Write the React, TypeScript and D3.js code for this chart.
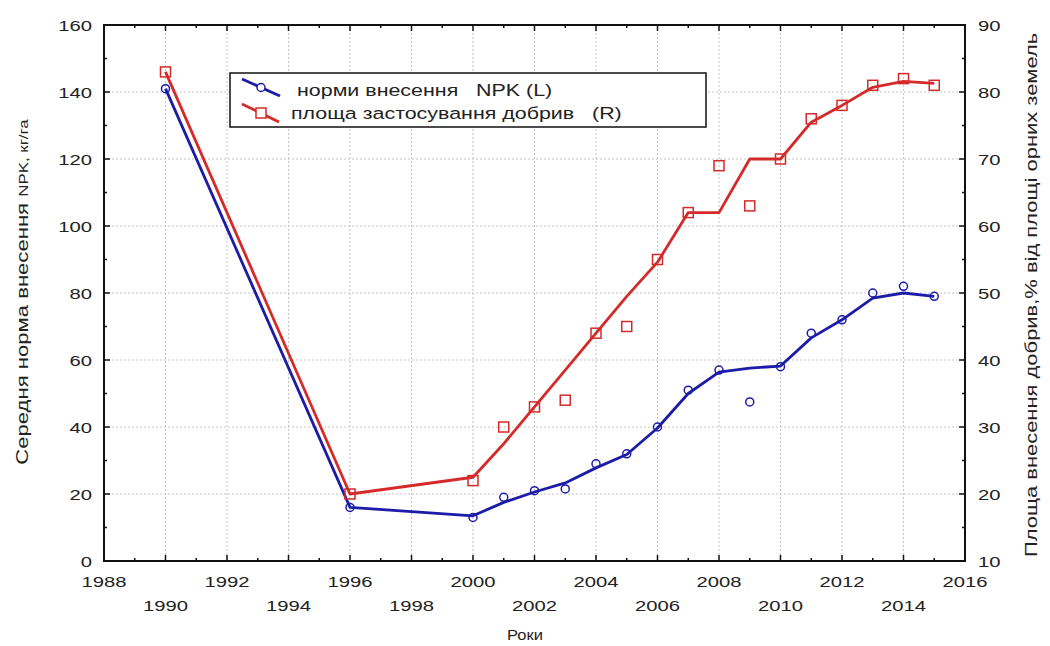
import React from 'react';
import * as d3 from 'd3';

// observed values
const years = [1990, 1996, 2000, 2001, 2002, 2003, 2004, 2005, 2006, 2007, 2008, 2009, 2010, 2011, 2012, 2013, 2014, 2015];
const npkRate = [141, 16, 13, 19, 21, 21.5, 29, 32, 40, 51, 57, 47.5, 58, 68, 72, 80, 82, 79];
const areaShare = [83, 20, 22, 30, 33, 34, 44, 45, 55, 62, 69, 63, 70, 76, 78, 81, 82, 81];

// smoothed fit lines as drawn in the source
const npkFit = [141, 16, 13.5, 17.5, 20.6, 23.3, 27.8, 31.8, 39.7, 50, 56.4, 57.6, 58.2, 66.6, 72, 78.5, 80, 79];
const areaFit = [83, 20, 22.5, 27.5, 33, 38.5, 44, 49.5, 54.6, 62, 62, 70, 70, 75.5, 78, 80.7, 81.6, 81.3];

const leftTicks = [0, 20, 40, 60, 80, 100, 120, 140, 160];
const rightTicks = [10, 20, 30, 40, 50, 60, 70, 80, 90];
const xTicksTop = [1988, 1992, 1996, 2000, 2004, 2008, 2012, 2016];
const xTicksLow = [1990, 1994, 1998, 2002, 2006, 2010, 2014];

const blue = '#1c1ca8';
const red = '#d42a2a';
const font = '"Liberation Sans", Arial, sans-serif';

const W = 1050;
const H = 646;
const m = { left: 104, right: 965, top: 25, bottom: 561 };

// the source renders its text noticeably wide, so stretch along the reading direction
const Wide = ({ x, y, sx = 1.33, rot = 0, anchor = 'start', size = 15, children }: any) => (
  <g transform={`translate(${x},${y}) rotate(${rot}) scale(${sx},1)`}>
    <text textAnchor={anchor} fontSize={size} fill="#222" style={{ whiteSpace: 'pre' }}>{children}</text>
  </g>
);

export default function App() {
  const x = d3.scaleLinear().domain([1988, 2016]).range([m.left, m.right]);
  const yL = d3.scaleLinear().domain([0, 160]).range([m.bottom, m.top]);
  const yR = d3.scaleLinear().domain([10, 90]).range([m.bottom, m.top]);

  const majorX = d3.range(1988, 2017, 2);
  const minorX = d3.range(1988, 2017, 1);

  const npkLine = d3.line<number>().x((_, i) => x(years[i])).y((d) => yL(d))(npkFit) || '';
  const areaLine = d3.line<number>().x((_, i) => x(years[i])).y((d) => yR(d))(areaFit) || '';

  return (
    <svg width={W} height={H} style={{ position: 'absolute', left: 0, top: 0, background: '#fff' }} fontFamily={font}>
      {/* grid */}
      <g stroke="#c4c4c4" strokeWidth={1} strokeDasharray="2,2">
        {majorX.slice(1, -1).map((t) => (
          <line key={'gx' + t} x1={x(t)} x2={x(t)} y1={m.top} y2={m.bottom} />
        ))}
        {leftTicks.slice(1, -1).map((t) => (
          <line key={'gy' + t} x1={m.left} x2={m.right} y1={yL(t)} y2={yL(t)} />
        ))}
      </g>

      {/* ticks */}
      <g stroke="#111" strokeWidth={1.5}>
        {minorX.map((t) => {
          const len = t % 2 === 0 ? 6 : 3;
          return (
            <g key={'tx' + t}>
              <line x1={x(t)} x2={x(t)} y1={m.bottom} y2={m.bottom - len} />
              <line x1={x(t)} x2={x(t)} y1={m.top} y2={m.top + len} />
            </g>
          );
        })}
        {d3.range(0, 161, 10).map((t) => {
          const len = t % 20 === 0 ? 6 : 3;
          return (
            <g key={'ty' + t}>
              <line x1={m.left} x2={m.left + len} y1={yL(t)} y2={yL(t)} />
              <line x1={m.right} x2={m.right - len} y1={yL(t)} y2={yL(t)} />
            </g>
          );
        })}
      </g>

      {/* frame */}
      <rect x={m.left} y={m.top} width={m.right - m.left} height={m.bottom - m.top} fill="none" stroke="#111" strokeWidth={2} />

      {/* tick labels */}
      {leftTicks.map((t) => (
        <Wide key={'ll' + t} x={m.left - 12} y={yL(t) + 5.5} anchor="end" sx={1.35}>{t}</Wide>
      ))}
      {rightTicks.map((t) => (
        <Wide key={'rl' + t} x={m.right + 13} y={yR(t) + 5.5} sx={1.35}>{t}</Wide>
      ))}
      {xTicksTop.map((t) => (
        <Wide key={'xt' + t} x={x(t)} y={m.bottom + 26} anchor="middle" sx={1.35}>{t}</Wide>
      ))}
      {xTicksLow.map((t) => (
        <Wide key={'xl' + t} x={x(t)} y={m.bottom + 50} anchor="middle" sx={1.35}>{t}</Wide>
      ))}

      {/* axis titles */}
      <Wide x={525} y={640} anchor="middle" size={15} sx={1.1}>Роки</Wide>
      <g transform="translate(28,292) rotate(-90) scale(1.3,1)">
        <text textAnchor="middle" fontSize={17} fill="#222">
          Середня норма внесення <tspan fontSize={13}>NPK, кг/га</tspan>
        </text>
      </g>
      <Wide x={1037} y={295} rot={-90} anchor="middle" size={16.5} sx={1.33}>
        Площа внесення добрив,% від площі орних земель
      </Wide>

      {/* fit lines */}
      <path d={areaLine} fill="none" stroke={red} strokeWidth={2.8} strokeLinejoin="round" />
      <path d={npkLine} fill="none" stroke={blue} strokeWidth={2.8} strokeLinejoin="round" />

      {/* markers */}
      {areaShare.map((v, i) => (
        <rect key={'sq' + i} x={x(years[i]) - 5} y={yR(v) - 5} width={10} height={10} fill="none" stroke={red} strokeWidth={1.5} />
      ))}
      {npkRate.map((v, i) => (
        <circle key={'c' + i} cx={x(years[i])} cy={yL(v)} r={4} fill="none" stroke={blue} strokeWidth={1.5} />
      ))}

      {/* legend */}
      <g>
        <rect x={230} y={73} width={476} height={54} fill="#fff" stroke="#111" strokeWidth={1.5} />
        <line x1={242} y1={79} x2={280} y2={96} stroke={blue} strokeWidth={2.8} />
        <circle cx={261} cy={87.5} r={4} fill="#fff" stroke={blue} strokeWidth={1.5} />
        <line x1={242} y1={104} x2={279} y2={122} stroke={red} strokeWidth={2.8} />
        <rect x={256} y={108} width={10} height={10} fill="#fff" stroke={red} strokeWidth={1.5} />
        <Wide x={297} y={96} size={17} sx={1.26}>{'норми внесення   NPK (L)'}</Wide>
        <Wide x={291} y={119} size={17} sx={1.26}>{'площа застосування добрив   (R)'}</Wide>
      </g>
    </svg>
  );
}
